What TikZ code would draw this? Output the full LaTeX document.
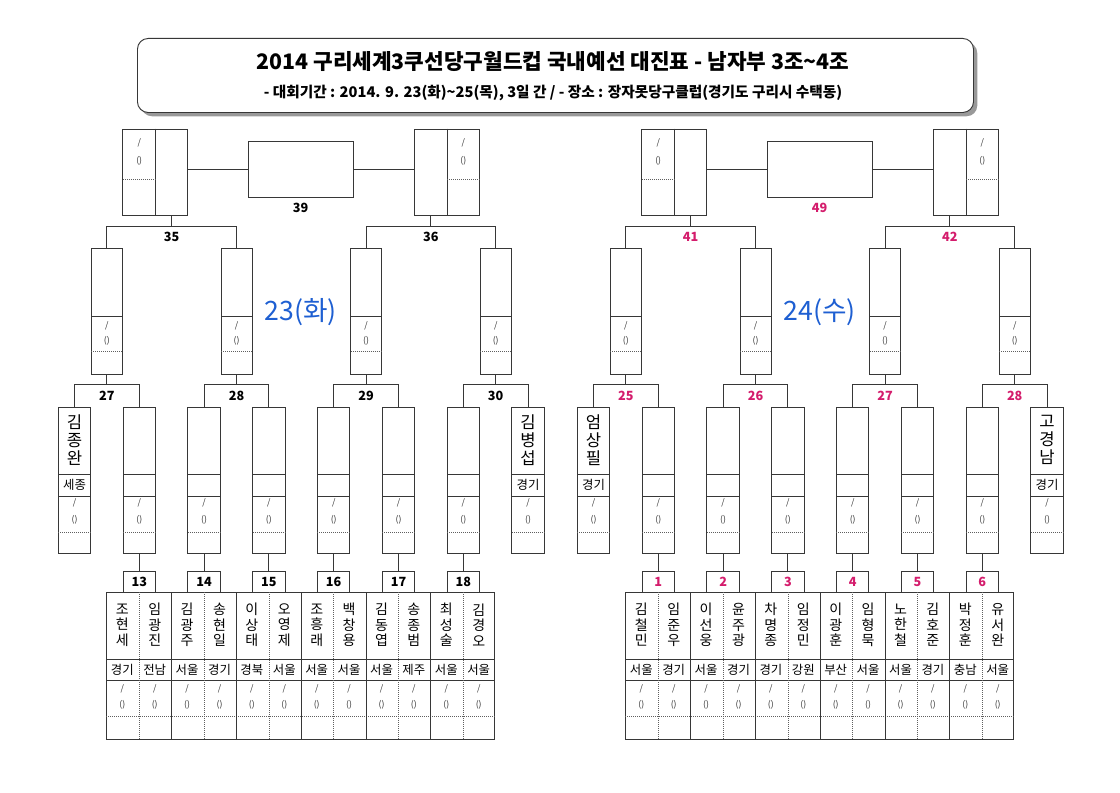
\documentclass[tikz,border=0pt]{standalone}
\usepackage{fontspec}
\newfontfamily\kr{Noto Sans CJK KR}
\usetikzlibrary{calc}
\definecolor{mag}{RGB}{212,28,108}
\definecolor{dayblue}{RGB}{30,95,210}
\definecolor{ln}{RGB}{55,55,55}
\tikzset{
 boxn/.style 2 args={draw=ln, line width=0.7pt, inner sep=0pt, minimum width=#1*0.75pt, minimum height=#2*0.75pt},
 wire/.style={draw=ln, line width=0.7pt},
 dots/.style={draw=ln!80, densely dotted, line width=0.5pt},
 num/.style={font=\kr\bfseries\fontsize{9.5}{10}\selectfont, inner sep=0pt},
 tiny/.style={font=\kr\fontsize{6.5}{7}\selectfont, inner sep=0pt, text=black!80},
 region/.style={font=\kr\fontsize{9.3}{10}\selectfont, inner sep=0pt},
 pname/.style={font=\kr\fontsize{10.5}{11.6}\selectfont, align=center, inner sep=0pt},
 sname/.style={font=\kr\fontsize{12.5}{13.5}\selectfont, align=center, inner sep=0pt},
 daylab/.style={font=\kr\fontsize{20}{24}\selectfont, text=dayblue, inner sep=0pt},
}
\newcommand\drawhalf[6]{%
 \foreach \k in {0,...,7}{%
  \pgfmathsetmacro\cx{74.5+64.8*\k}%
  \node[boxn={32.5}{146}] (r\k) at (\cx,480) {};
  \draw[wire] (\cx-16.25,474) -- (\cx+16.25,474);
  \draw[wire] (\cx-16.25,496) -- (\cx+16.25,496);
  \draw[dots] (\cx-16.25,532) -- (\cx+16.25,532);
  \node[tiny] (rs\k) at (\cx,503) {/};
  \node[tiny] (rp\k) at (\cx,520) {()};
 }
 \foreach \j/\lab in {#5}{%
  \pgfmathsetmacro\cx{106.9+129.6*\j}%
  \pgfmathtruncatemacro\ka{2*\j}%
  \pgfmathtruncatemacro\kb{2*\j+1}%
  \node[boxn={31}{126}] (q\j) at (\cx,311) {};
  \draw[wire] (\cx-15.5,316) -- (\cx+15.5,316);
  \draw[dots] (\cx-15.5,351) -- (\cx+15.5,351);
  \node[tiny] (qs\j) at (\cx,326) {/};
  \node[tiny] (qp\j) at (\cx,341) {()};
  \coordinate (qm\j) at ($(r\ka.north)!0.5!(r\kb.north)+(0,-22)$);
  \draw[wire] (r\ka.north) |- (qm\j) -| (r\kb.north);
  \draw[wire] (q\j.south) -- (qm\j);
  \node[num,text=#1] (ql\j) at ($(qm\j)+(0,11)$) {\lab};
 }
 % semi-final boxes
 \node[boxn={65}{86}] (sL) at (155.45,172) {};
 \draw[wire] (sL.north) -- (sL.south);
 \draw[dots] (122.95,179) -- (155.45,179);
 \node[tiny] (sLs) at (139.2,143) {/};
 \node[tiny] (sLp) at (139.2,161) {()};
 \coordinate (sLm) at ($(q0.north)!0.5!(q1.north)+(0,-21)$);
 \draw[wire] (q0.north) |- (sLm) -| (q1.north);
 \draw[wire] (sLm) -- (sLm |- sL.south);
 \node[num,text=#1] (sLl) at ($(sLm)+(0,10)$) {#3};
 \node[boxn={65}{86}] (sR) at (447.15,172) {};
 \draw[wire] (sR.north) -- (sR.south);
 \draw[dots] (447.15,179) -- (479.65,179);
 \node[tiny] (sRs) at (463.4,143) {/};
 \node[tiny] (sRp) at (463.4,161) {()};
 \coordinate (sRm) at ($(q2.north)!0.5!(q3.north)+(0,-21)$);
 \draw[wire] (q2.north) |- (sRm) -| (q3.north);
 \draw[wire] (sRm) -- (sRm |- sR.south);
 \node[num,text=#1] (sRl) at ($(sRm)+(0,10)$) {#4};
 % final
 \node[boxn={105}{56}] (fin) at (300.5,169) {};
 \draw[wire] (sL.east |- fin.west) -- (fin.west);
 \draw[wire] (fin.east) -- (fin.east -| sR.west);
 \node[num,text=#1] (finl) at ($(fin.south)+(0,10)$) {#2};
 % match label boxes
 \foreach \k/\lab in {#6}{%
  \pgfmathsetmacro\cx{74.5+64.8*\k}%
  \node[boxn={32.5}{21},num,text=#1] (m\k) at (\cx,581.5) {\lab};
  \draw[wire] (r\k.south) -- (m\k.north);
 }
 % player table
 \node[boxn={388.8}{147}] (tab) at (300.5,665.5) {};
 \draw[wire] (106.1,659) -- (494.9,659);
 \draw[wire] (106.1,680) -- (494.9,680);
 \draw[dots] (106.1,716) -- (494.9,716);
 \foreach \k in {1,...,6}{%
  \pgfmathsetmacro\cx{74.5+64.8*\k}%
  \draw[dots] (\cx,592) -- (\cx,739);
 }
 \foreach \k in {1,...,5}{%
  \pgfmathsetmacro\cx{74.5+64.8*\k+32.4}%
  \draw[wire] (\cx,592) -- (\cx,739);
 }
 \foreach \p in {0,...,11}{%
  \pgfmathsetmacro\cx{122.3+32.4*\p}%
  \node[tiny] (ts\p) at (\cx,689) {/};
  \node[tiny] (tp\p) at (\cx,705) {()};
 }
}
\begin{document}
\begin{tikzpicture}[x=0.75pt,y=-0.75pt]
\useasboundingbox (0,0) rectangle (1120,792);
\fill[white] (0,0) rectangle (1120,792);
% title
\node[fill=black!40, rounded corners=8pt, inner sep=0pt, minimum width=836*0.75pt, minimum height=74*0.75pt, anchor=north west] (tshadow) at (141,42) {};
\node[draw=ln, fill=white, line width=0.7pt, rounded corners=8pt, inner sep=0pt, minimum width=836*0.75pt, minimum height=74*0.75pt, anchor=north west] (tbox) at (137,38) {};
\node[font=\kr\bfseries\fontsize{16}{19}\selectfont, inner sep=0pt] (t1) at (553,62) {2014 구리세계3쿠선당구월드컵 국내예선 대진표 - 남자부 3조\textasciitilde4조};
\node[font=\kr\bfseries\fontsize{11}{13}\selectfont, inner sep=0pt] (t2) at (553,93) {- 대회기간 : 2014. 9. 23(화)\textasciitilde25(목), 3일 간 / - 장소 : 장자못당구클럽(경기도 구리시 수택동)};
% left half
\begin{scope}[name prefix=L-]
\drawhalf{black}{39}{35}{36}{0/27,1/28,2/29,3/30}{1/13,2/14,3/15,4/16,5/17,6/18}
\node[daylab] (day) at (300.5,312) {23(화)};
\node[sname] (sd0) at (74.5,440) {김\\종\\완};
\node[region] (sg0) at (74.5,485) {세종};
\node[sname] (sd7) at (528.1,440) {김\\병\\섭};
\node[region] (sg7) at (528.1,485) {경기};
\foreach \p/\sa/\sb/\sc/\rg in {0/조/현/세/경기, 1/임/광/진/전남, 2/김/광/주/서울, 3/송/현/일/경기, 4/이/상/태/경북, 5/오/영/제/서울, 6/조/흥/래/서울, 7/백/창/용/서울, 8/김/동/엽/서울, 9/송/종/범/제주, 10/최/성/술/서울, 11/김/경/오/서울}{%
 \pgfmathsetmacro\cx{122.3+32.4*\p}%
 \node[pname] (nm\p) at (\cx,625) {\sa\\\sb\\\sc};
 \node[region] (rg\p) at (\cx,669.5) {\rg};
}
\end{scope}
% right half
\begin{scope}[shift={(519,0)}, name prefix=R-]
\drawhalf{mag}{49}{41}{42}{0/25,1/26,2/27,3/28}{1/1,2/2,3/3,4/4,5/5,6/6}
\node[daylab] (day) at (300.5,312) {24(수)};
\node[sname] (sd0) at (74.5,440) {엄\\상\\필};
\node[region] (sg0) at (74.5,485) {경기};
\node[sname] (sd7) at (528.1,440) {고\\경\\남};
\node[region] (sg7) at (528.1,485) {경기};
\foreach \p/\sa/\sb/\sc/\rg in {0/김/철/민/서울, 1/임/준/우/경기, 2/이/선/웅/서울, 3/윤/주/광/경기, 4/차/명/종/경기, 5/임/정/민/강원, 6/이/광/훈/부산, 7/임/형/묵/서울, 8/노/한/철/서울, 9/김/호/준/경기, 10/박/정/훈/충남, 11/유/서/완/서울}{%
 \pgfmathsetmacro\cx{122.3+32.4*\p}%
 \node[pname] (nm\p) at (\cx,625) {\sa\\\sb\\\sc};
 \node[region] (rg\p) at (\cx,669.5) {\rg};
}
\end{scope}
\end{tikzpicture}
\end{document}
